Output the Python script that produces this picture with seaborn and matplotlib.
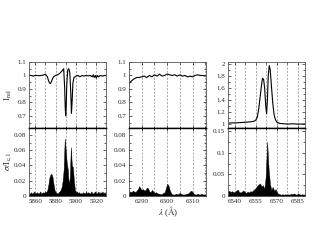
import numpy as np
import matplotlib
matplotlib.use('Agg')
import matplotlib.pyplot as plt
import seaborn as sns
from matplotlib.ticker import MultipleLocator, FuncFormatter

# ---- Na D region (left panel) ----
na_wave = [5854, 5856, 5858, 5860, 5862, 5864, 5866, 5868, 5870, 5872, 5873, 5874,
           5875, 5876, 5877, 5878, 5880, 5882, 5884, 5886, 5887, 5888, 5889, 5889.5,
           5890, 5890.5, 5891, 5892, 5893, 5894, 5895, 5895.6, 5896.2, 5897, 5898, 5899,
           5900, 5902, 5904, 5906, 5908, 5910, 5912, 5914, 5916, 5917, 5918, 5919,
           5920, 5921, 5922, 5924, 5926, 5928, 5929]
na_flux = [1.0, 1.0, 0.995, 1.0, 1.0, 0.998, 1.0, 1.003, 1.01, 0.99, 0.965, 0.945,
           0.94, 0.955, 0.975, 0.99, 1.0, 1.005, 1.015, 1.03, 1.04, 1.05, 0.9, 0.76,
           0.70, 0.78, 0.93, 1.04, 1.05, 1.02, 0.86, 0.72, 0.80, 0.94, 0.985, 0.99,
           0.995, 1.0, 0.99, 1.0, 0.995, 1.0, 0.997, 1.0, 0.99, 1.005, 0.985, 1.0,
           0.98, 1.0, 0.99, 1.0, 0.995, 1.0, 1.0]
na_sig_wave = np.arange(5854, 5930, 1.0)
na_sig = [0.004, 0.003, 0.005, 0.003, 0.004, 0.006, 0.003, 0.004, 0.005, 0.003,
          0.004, 0.006, 0.003, 0.004, 0.005, 0.004, 0.006, 0.005, 0.008, 0.015,
          0.024, 0.028, 0.029, 0.025, 0.016, 0.008, 0.005, 0.004, 0.003, 0.005,
          0.006, 0.008, 0.012, 0.020, 0.035, 0.075, 0.060, 0.043, 0.035, 0.014,
          0.025, 0.064, 0.040, 0.038, 0.020, 0.008, 0.005, 0.006, 0.004, 0.005,
          0.003, 0.004, 0.003, 0.005, 0.004, 0.003, 0.006, 0.003, 0.005, 0.004,
          0.003, 0.006, 0.004, 0.003, 0.005, 0.006, 0.003, 0.004, 0.006, 0.003,
          0.005, 0.004, 0.006, 0.003, 0.005, 0.004]

# ---- [O I] 6300 region (middle panel) ----
oi_wave = np.arange(6285, 6316, 1.0)
oi_flux = [0.94, 0.96, 0.975, 0.985, 0.985, 0.99, 0.995, 0.985, 1.0, 0.99, 1.005,
           0.995, 1.01, 0.995, 1.0, 1.01, 1.005, 1.0, 1.005, 0.995, 1.005, 0.995,
           1.0, 0.99, 0.995, 0.99, 1.0, 1.005, 1.0, 1.0, 0.995]
oi_sig_wave = np.arange(6285, 6315.5, 0.5)
oi_sig = [0.004, 0.006, 0.005, 0.007, 0.006, 0.005, 0.007, 0.009, 0.013, 0.010,
          0.008, 0.009, 0.007, 0.008, 0.011, 0.010, 0.006, 0.005, 0.008, 0.006,
          0.004, 0.005, 0.004, 0.003, 0.003, 0.002, 0.003, 0.004, 0.005, 0.010,
          0.016, 0.014, 0.008, 0.004, 0.002, 0.002, 0.002, 0.003, 0.002, 0.003,
          0.004, 0.003, 0.002, 0.002, 0.002, 0.003, 0.003, 0.004, 0.006, 0.007,
          0.005, 0.003, 0.002, 0.002, 0.003, 0.002, 0.002, 0.003, 0.002, 0.002,
          0.002]

# ---- H alpha region (right panel) ----
ha_wave = [6535, 6538, 6541, 6544, 6547, 6550, 6552, 6554, 6555, 6556, 6557, 6558,
           6559, 6559.7, 6560.5, 6561.2, 6562, 6562.6, 6563.2, 6563.8, 6564.5, 6565.2,
           6566, 6567, 6568, 6569, 6570, 6572, 6575, 6578, 6581, 6584, 6587, 6590]
ha_flux = [1.015, 1.02, 1.02, 1.025, 1.03, 1.035, 1.04, 1.05, 1.07, 1.12, 1.25, 1.45,
           1.65, 1.76, 1.74, 1.6, 1.3, 1.17, 1.4, 1.8, 1.97, 1.9,
           1.65, 1.35, 1.15, 1.07, 1.03, 1.01, 1.005, 1.0, 1.005, 1.0, 1.0, 1.0]
ha_sig_wave = np.arange(6535, 6591, 1.0)
ha_sig = [0.010, 0.012, 0.009, 0.011, 0.008, 0.010, 0.012, 0.015, 0.009, 0.008,
          0.010, 0.013, 0.009, 0.007, 0.010, 0.008, 0.011, 0.010, 0.013, 0.016,
          0.019, 0.024, 0.027, 0.029, 0.022, 0.025, 0.016, 0.045, 0.125, 0.065,
          0.028, 0.014, 0.021, 0.012, 0.016, 0.008, 0.005, 0.004, 0.003, 0.004,
          0.003, 0.004, 0.003, 0.004, 0.003, 0.005, 0.004, 0.006, 0.004, 0.003,
          0.005, 0.004, 0.003, 0.004, 0.003, 0.004]

sns.set_style('ticks')
plt.rcParams['font.family'] = ['Liberation Serif', 'DejaVu Serif']
plt.rcParams['mathtext.fontset'] = 'stix'
plt.rcParams['font.size'] = 5

fig = plt.figure(figsize=(3.17, 2.45), dpi=100)

panels = [
    dict(left=0.0915, wave=na_wave, flux=na_flux, swave=na_sig_wave, sig=na_sig,
         xlim=(5854, 5929.5), major=20, minor=10, ylim=(0.61, 1.1), ymaj=0.1,
         slim=(0, 0.089), smaj=0.02),
    dict(left=0.407, wave=oi_wave, flux=oi_flux, swave=oi_sig_wave, sig=oi_sig,
         xlim=(6285, 6315.3), major=10, minor=5, ylim=(0.61, 1.1), ymaj=0.1,
         slim=(0, 0.089), smaj=0.02),
    dict(left=0.719, wave=ha_wave, flux=ha_flux, swave=ha_sig_wave, sig=ha_sig,
         xlim=(6535, 6590), major=15, minor=7.5, ylim=(0.935, 2.03), ymaj=0.2,
         slim=(0, 0.157), smaj=0.05),
]

fmt = FuncFormatter(lambda v, p: '%g' % round(v, 4))

for p in panels:
    ax_top = fig.add_axes([p['left'], 0.4776, 0.243, 0.2694])
    ax_bot = fig.add_axes([p['left'], 0.2, 0.243, 0.2776])

    sns.lineplot(x=p['wave'], y=p['flux'], ax=ax_top, color='black', lw=0.8)
    ax_bot.fill_between(p['swave'], 0, p['sig'], color='black', lw=0.3)

    ax_top.set_ylim(*p['ylim'])
    ax_bot.set_ylim(*p['slim'])
    ax_top.yaxis.set_major_locator(MultipleLocator(p['ymaj']))
    ax_top.yaxis.set_minor_locator(MultipleLocator(p['ymaj'] / 2))
    ax_bot.yaxis.set_major_locator(MultipleLocator(p['smaj']))
    ax_bot.yaxis.set_minor_locator(MultipleLocator(p['smaj'] / 2))

    for ax in (ax_top, ax_bot):
        ax.set_xlim(*p['xlim'])
        ax.xaxis.set_major_locator(MultipleLocator(p['major']))
        ax.xaxis.set_minor_locator(MultipleLocator(p['minor']))
        ax.yaxis.set_major_formatter(fmt)
        ax.xaxis.set_major_formatter(fmt)
        ax.grid(axis='x', which='both', ls=(0, (3, 2)), color='#888888', lw=0.5)
        ax.tick_params(which='both', direction='in', top=True, right=True,
                       labelsize=5, pad=2, width=0.5)
        ax.tick_params(which='major', length=2.5)
        ax.tick_params(which='minor', length=1.5)
        for s in ax.spines.values():
            s.set_linewidth(0.6)
            s.set_color('#555555')
    ax_top.tick_params(labelbottom=False)
    ax_top.spines['bottom'].set_color('black')
    ax_top.spines['bottom'].set_linewidth(1.0)
    ax_bot.spines['top'].set_color('black')
    ax_bot.spines['top'].set_linewidth(1.0)

fig.text(0.025, 0.61, r'I$_{\rm rel}$', rotation=90, ha='center', va='center', fontsize=6.5)
fig.text(0.025, 0.34, r'$\sigma$/I$_{\rm c,l}$', rotation=90, ha='center', va='center', fontsize=6.5)
fig.text(0.53, 0.135, r'$\lambda$ ($\rm\AA$)', ha='center', va='center', fontsize=6.5)

fig.savefig('out.png', dpi=100)
